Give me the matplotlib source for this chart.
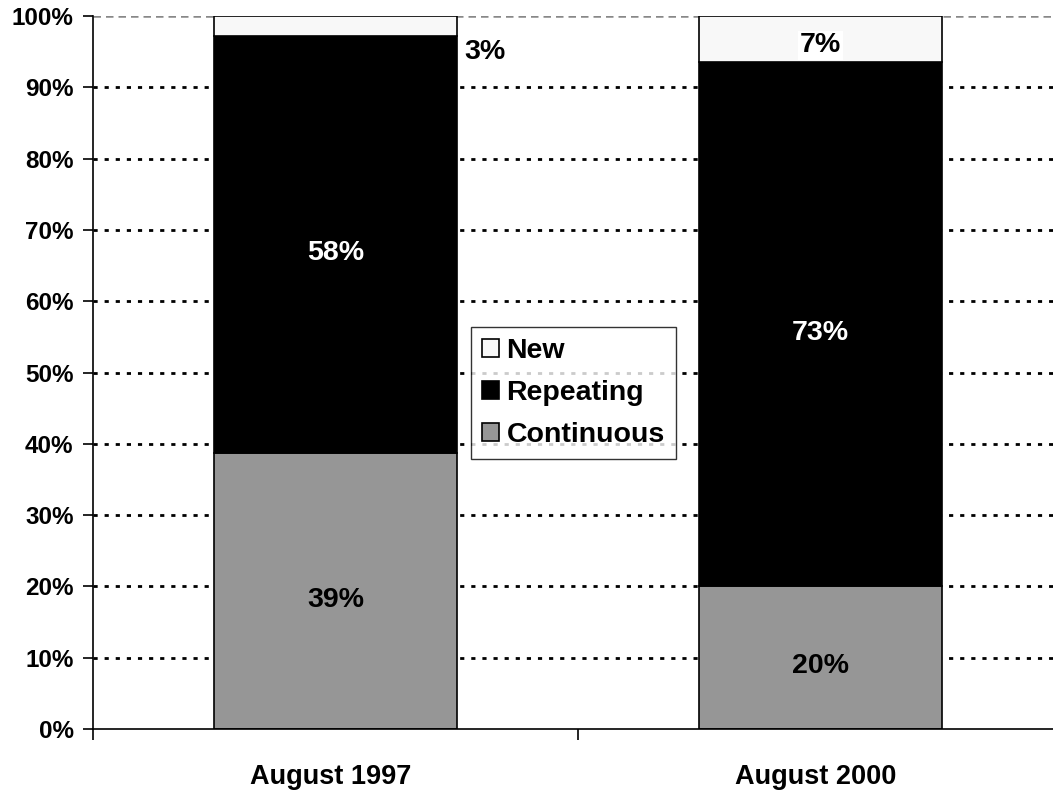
import matplotlib.pyplot as plt
import numpy as np

plt.rcParams['font.family'] = ['Liberation Sans', 'DejaVu Sans']
plt.rcParams['font.weight'] = 'bold'

categories = ['August 1997', 'August 2000']
continuous = [38.7, 20.0]
repeating = [58.5, 73.5]
new = [2.8, 6.5]
continuous_labels = ['39%', '20%']
repeating_labels = ['58%', '73%']
new_labels = ['3%', '7%']
yticks = [0, 10, 20, 30, 40, 50, 60, 70, 80, 90, 100]

color_cont = '#969696'
color_rep = '#000000'
color_new = '#f8f8f8'

W, H = 1053, 795
fig = plt.figure(figsize=(W / 100, H / 100), dpi=100)
ax = fig.add_axes([93 / W, (H - 729) / H, (1063 - 93) / W, (729 - 16) / H])

x = np.arange(len(categories))
bw = 0.5

# gridlines behind bars
for t in yticks[1:-1]:
    ax.axhline(t, color='black', lw=2.0, ls=(0, (1.5, 2.5)), zorder=0)
ax.axhline(100, color='#888888', lw=1.8, ls=(0, (3, 2)), zorder=0)

b1 = ax.bar(x, continuous, bw, color=color_cont, edgecolor='black', lw=1.2, label='Continuous', zorder=2)
b2 = ax.bar(x, repeating, bw, bottom=continuous, color=color_rep, edgecolor='black', lw=1.2, label='Repeating', zorder=2)
bottom_new = np.array(continuous) + np.array(repeating)
b3 = ax.bar(x, new, bw, bottom=bottom_new, color=color_new, edgecolor='black', lw=1.2, label='New', zorder=2)

fs = 20.5
for i in range(len(categories)):
    ax.text(x[i], continuous[i] / 2 - 1.2, continuous_labels[i], ha='center', va='center',
            fontsize=fs, fontweight='bold', color='black', zorder=3)
    ax.text(x[i], continuous[i] + repeating[i] / 2 - 1.2, repeating_labels[i], ha='center', va='center',
            fontsize=fs, fontweight='bold', color='white', zorder=3)

# 3% sits just right of the first bar, 7% inside the second
ax.text(x[0] + bw / 2 + 0.016, 94.9, new_labels[0], ha='left', va='center',
        fontsize=fs, fontweight='bold', color='black', zorder=3)
ax.text(x[1], 95.9, new_labels[1], ha='center', va='center',
        fontsize=fs, fontweight='bold', color='black', zorder=3,
        bbox=dict(facecolor='white', edgecolor='none', pad=1))

ax.set_xlim(-0.5, 1.5)
ax.set_ylim(0, 100)
ax.set_yticks(yticks)
ax.set_yticklabels([f'{t}%' for t in yticks], fontsize=17.5, fontweight='bold')
ax.set_xticks([-0.5, 0.5, 1.5])
ax.set_xticklabels([])
ax.tick_params(axis='y', direction='out', length=7, width=1.2, pad=7)
ax.tick_params(axis='x', direction='out', length=8, width=1.2)
for i, c in enumerate(categories):
    ax.text(x[i] - 0.01, -6.8, c, ha='center', va='center', fontsize=19.5, fontweight='bold')

ax.spines['top'].set_visible(False)
ax.spines['right'].set_visible(False)
ax.spines['left'].set_linewidth(1.2)
ax.spines['bottom'].set_linewidth(1.2)

leg = ax.legend(handles=[b3, b2, b1], loc='upper left',
                bbox_to_anchor=((471 - 93) / 970, (729 - 327) / 713),
                fontsize=20.5, frameon=True, fancybox=False, edgecolor='black',
                handlelength=0.6, handleheight=0.6, handletextpad=0.25,
                borderpad=0.4, labelspacing=0.55, borderaxespad=0)
leg.get_frame().set_linewidth(1.0)
leg.set_zorder(5)

plt.savefig('out.png', dpi=100)
